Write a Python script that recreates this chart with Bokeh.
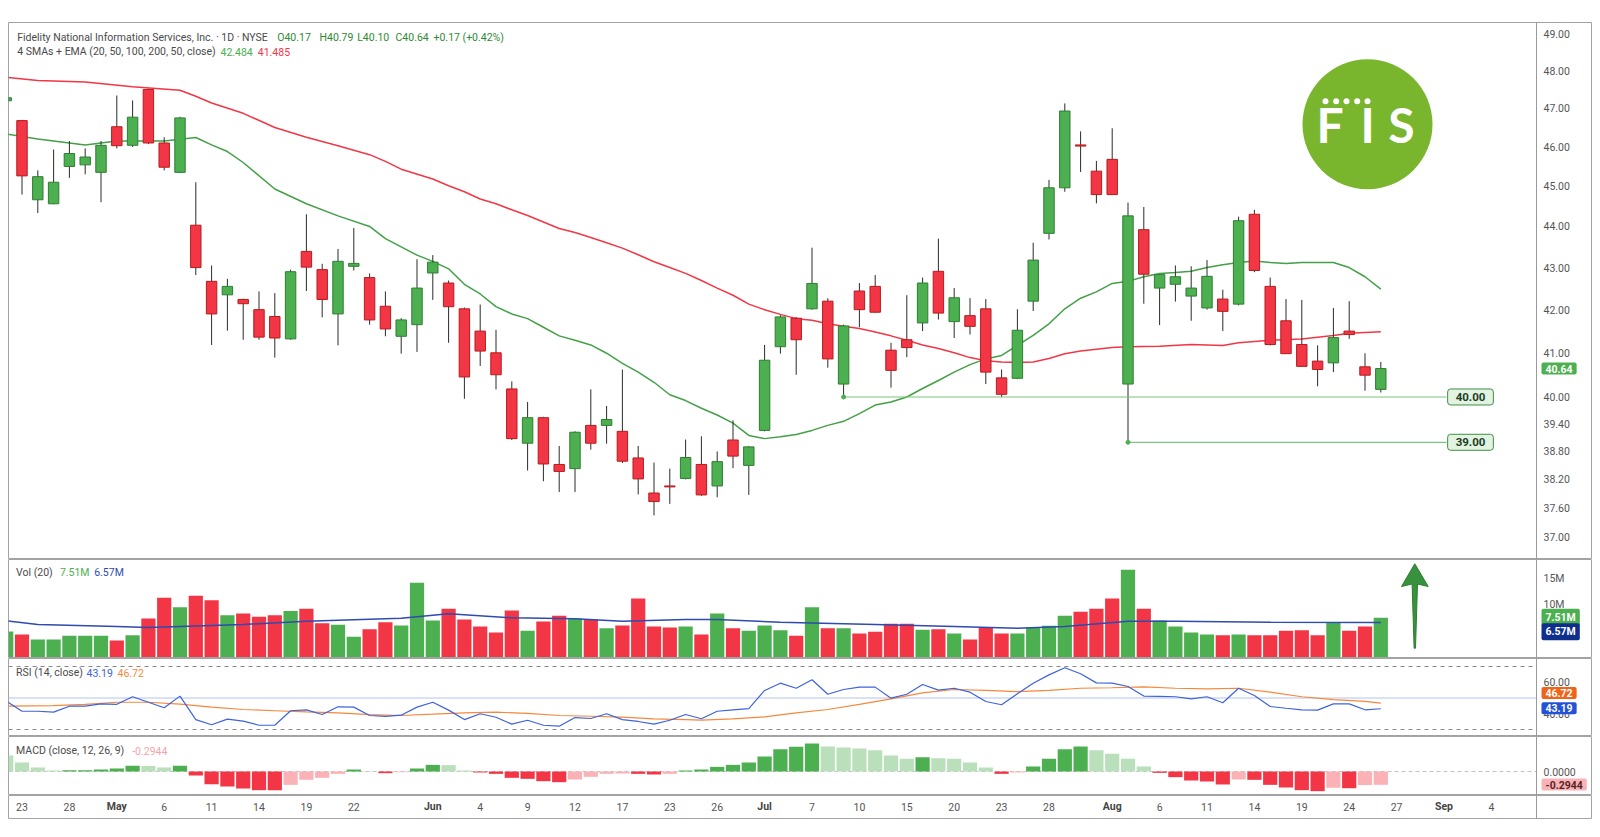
import math
from bokeh.plotting import figure
from bokeh.layouts import column
from bokeh.models import Range1d, Label, ColumnDataSource, Span
from bokeh.embed import file_html
from bokeh.resources import INLINE
from bokeh.core.properties import value

FONT = "Roboto"
UP, DOWN = "#4caf50", "#f23645"
UP_EDGE, DOWN_EDGE = "#2e7d32", "#b71c1c"
TXT = "#555555"

# ---------------- data (bar index, daily OHLC) ----------------
bars = list(range(-1, 87))
opens = [47.20,
         46.68, 44.66, 44.56, 45.50, 45.54, 45.35, 46.52, 46.04, 47.50, 46.10,
         45.35, 44.03, 42.67, 42.35, 42.24, 42.00, 41.84, 41.32, 43.39, 42.95,
         41.90, 43.03, 42.76, 42.08, 41.38, 41.65, 42.87, 42.63, 42.02, 41.50,
         41.00, 40.18, 38.98, 39.54, 38.52, 38.43, 39.37, 39.37, 39.24, 38.66,
         37.91, 38.06, 38.22, 38.52, 38.06, 39.05, 38.50, 39.26, 41.14, 41.80,
         42.02, 42.20, 40.29, 42.44, 42.55, 41.06, 41.30, 41.69, 42.91, 41.72,
         41.86, 42.02, 40.43, 40.42, 42.20, 43.83, 44.96, 46.05, 45.38, 45.68,
         40.29, 43.92, 42.51, 42.60, 42.32, 42.04, 42.25, 42.13, 44.30, 42.55,
         41.74, 41.19, 40.81, 40.77, 41.50, 40.68, 40.17]
highs = [47.40,
         46.70, 45.40, 45.93, 46.15, 45.96, 46.15, 47.34, 47.21, 47.52, 46.25,
         46.78, 45.10, 43.05, 42.73, 42.26, 42.43, 42.39, 42.95, 44.30, 43.09,
         43.45, 43.96, 42.86, 42.43, 41.80, 43.20, 43.30, 42.69, 42.05, 42.12,
         41.53, 40.35, 39.89, 39.56, 38.92, 39.24, 40.17, 39.80, 40.62, 38.92,
         38.56, 38.43, 39.06, 39.13, 38.80, 39.48, 38.92, 41.18, 41.87, 41.83,
         43.48, 42.27, 41.65, 42.63, 42.82, 41.23, 42.34, 42.76, 43.70, 42.51,
         42.27, 42.25, 40.62, 42.01, 43.60, 45.16, 47.13, 46.40, 45.64, 46.48,
         44.59, 44.48, 42.83, 43.05, 43.03, 43.18, 42.47, 44.24, 44.41, 42.76,
         42.25, 42.23, 41.17, 42.04, 42.20, 40.99, 40.79]
lows = [47.00,
        44.79, 44.33, 44.55, 45.21, 45.30, 44.60, 45.96, 46.00, 46.07, 45.40,
        45.33, 42.82, 41.18, 41.51, 41.30, 41.30, 40.89, 41.30, 42.44, 41.82,
        41.17, 42.93, 41.65, 41.38, 40.98, 41.02, 42.23, 41.23, 39.96, 40.70,
        40.17, 39.05, 38.39, 38.16, 37.93, 37.93, 38.84, 38.97, 38.55, 37.88,
        37.44, 37.68, 38.20, 37.85, 37.82, 38.44, 37.87, 39.24, 40.98, 40.50,
        42.00, 40.66, 40.00, 41.59, 41.93, 40.21, 40.90, 41.50, 41.77, 41.34,
        41.42, 40.29, 40.00, 40.40, 41.97, 43.68, 44.86, 45.36, 44.57, 44.79,
        39.00, 42.14, 41.64, 42.19, 41.74, 42.00, 41.50, 42.10, 42.89, 41.17,
        40.98, 40.69, 40.24, 40.56, 41.32, 40.14, 40.10]
closes = [47.28,
          45.26, 45.24, 45.10, 45.83, 45.74, 46.04, 46.03, 46.77, 46.10, 45.48,
          46.75, 43.00, 41.90, 42.55, 42.14, 41.36, 41.34, 42.90, 43.01, 42.24,
          43.15, 43.10, 41.76, 41.55, 41.76, 42.51, 43.13, 42.07, 40.45, 41.04,
          40.50, 39.08, 39.54, 38.53, 38.37, 39.22, 38.98, 39.50, 38.59, 38.21,
          37.73, 38.04, 38.67, 37.87, 38.58, 38.70, 38.90, 40.83, 41.83, 41.30,
          42.62, 40.86, 41.62, 42.00, 41.94, 40.60, 41.12, 42.63, 41.92, 42.28,
          41.61, 40.56, 40.06, 41.52, 43.18, 44.96, 46.93, 46.02, 44.79, 44.79,
          44.26, 42.84, 42.83, 42.78, 42.51, 42.79, 41.96, 44.14, 42.93, 41.19,
          40.98, 40.69, 40.62, 41.35, 41.42, 40.49, 40.64]
volumes_m = [4.87,
             4.30, 3.34, 3.34, 4.04, 4.04, 4.04, 3.15, 4.17, 7.35, 11.30,
             9.50, 11.70, 10.85, 7.98, 8.30, 7.67, 7.98, 8.80, 9.20, 6.45,
             6.14, 3.85, 5.30, 6.64, 6.00, 14.16, 6.97, 9.20, 7.16, 5.82,
             4.68, 8.87, 5.00, 6.77, 7.86, 7.35, 7.16, 5.50, 6.00, 11.16,
             5.82, 5.63, 5.82, 4.30, 8.30, 5.50, 5.00, 6.00, 5.12, 4.04,
             9.50, 5.50, 5.50, 4.48, 4.80, 6.33, 6.33, 5.18, 5.30, 4.48,
             3.34, 5.63, 4.48, 4.48, 5.63, 5.95, 7.86, 8.63, 9.20, 11.16,
             16.64, 9.20, 6.97, 5.82, 4.68, 4.30, 4.17, 4.30, 4.17, 4.17,
             5.00, 5.12, 4.17, 6.64, 5.00, 5.82, 7.51]
rsi = [48.0,
       41.6, 41.6, 41.0, 44.8, 44.8, 46.3, 46.0, 50.8, 47.3, 43.8,
       51.2, 36.3, 33.0, 36.6, 35.3, 32.7, 32.7, 41.9, 42.5, 39.5,
       44.4, 44.2, 38.9, 38.3, 39.1, 44.2, 47.3, 42.3, 36.3, 40.0,
       37.8, 33.4, 35.9, 32.7, 32.1, 37.6, 37.0, 40.0, 36.3, 35.1,
       33.4, 35.9, 39.5, 36.8, 41.6, 42.5, 43.3, 54.8, 59.4, 56.2,
       61.6, 52.4, 55.4, 56.9, 56.9, 49.9, 52.4, 58.6, 55.0, 56.2,
       53.7, 47.8, 45.7, 52.7, 59.4, 64.7, 69.2, 65.4, 59.6, 59.4,
       57.3, 51.2, 51.0, 50.8, 49.5, 50.8, 47.0, 56.2, 51.6, 44.6,
       43.5, 42.5, 42.3, 46.3, 46.3, 42.5, 43.19]
macd_hist = [0.354,
             0.199, 0.088, 0.022, 0.025, 0.030, 0.044, 0.066, 0.125, 0.120, 0.088,
             0.125, -0.088, -0.280, -0.332, -0.376, -0.413, -0.415, -0.295, -0.184, -0.140,
             -0.052, 0.044, 0.007, -0.037, -0.015, 0.066, 0.147, 0.140, 0.022, -0.022,
             -0.052, -0.140, -0.162, -0.214, -0.236, -0.177, -0.118, -0.052, -0.044, -0.052,
             -0.066, -0.052, 0.022, 0.044, 0.103, 0.147, 0.199, 0.332, 0.494, 0.546,
             0.620, 0.553, 0.531, 0.509, 0.472, 0.354, 0.280, 0.317, 0.295, 0.280,
             0.199, 0.088, -0.052, -0.022, 0.111, 0.280, 0.494, 0.553, 0.472, 0.391,
             0.280, 0.111, -0.030, -0.125, -0.199, -0.221, -0.287, -0.177, -0.184, -0.295,
             -0.354, -0.413, -0.435, -0.360, -0.370, -0.300, -0.2944]

# moving averages (bar index, value)
sma20_x = [-1, 1, 4, 6, 9, 11, 12, 13, 14, 16, 18, 20, 22, 23, 24, 25, 26, 27, 28, 29,
           30, 31, 32, 33, 34, 35, 36, 37, 38, 39, 40, 41, 42, 43, 44, 45, 46, 47, 48, 49,
           50, 51, 52, 53, 54, 55, 56, 57, 58, 59, 60, 61, 62, 63, 64, 65, 66, 67, 68, 69,
           70, 71, 72, 73, 74, 75, 76, 77, 78, 79, 80, 81, 82, 83, 84, 85, 86]
sma20_y = [46.33, 46.20, 46.05, 46.15, 46.15, 46.24, 46.05, 45.88, 45.60, 44.93, 44.56, 44.26,
           44.00, 43.70, 43.50, 43.30, 43.15, 42.97, 42.60, 42.37, 42.07, 41.90, 41.79, 41.59,
           41.39, 41.29, 41.18, 40.99, 40.76, 40.56, 40.33, 40.05, 39.92, 39.75, 39.60, 39.42,
           39.15, 39.08, 39.12, 39.17, 39.26, 39.37, 39.46, 39.63, 39.82, 39.89, 40.00, 40.19,
           40.37, 40.56, 40.73, 40.86, 40.94, 41.17, 41.40, 41.67, 42.02, 42.27, 42.42, 42.62,
           42.67, 42.78, 42.86, 42.88, 42.91, 43.00, 43.07, 43.12, 43.16, 43.12, 43.10, 43.12,
           43.12, 43.12, 43.00, 42.78, 42.484]
ema50_x = [-1, 1, 4, 7, 10, 11, 12, 14, 16, 18, 20, 22, 23, 24, 26, 27, 28, 29, 30, 31,
           32, 33, 34, 35, 36, 37, 38, 39, 40, 41, 42, 43, 44, 45, 46, 47, 48, 49, 50, 51,
           52, 53, 54, 55, 56, 57, 58, 59, 60, 61, 62, 63, 64, 65, 66, 67, 68, 69, 70, 72,
           74, 76, 77, 79, 81, 83, 84, 86]
ema50_y = [47.82, 47.74, 47.70, 47.57, 47.48, 47.32, 47.14, 46.87, 46.50, 46.25, 46.03, 45.80,
           45.63, 45.43, 45.18, 45.01, 44.86, 44.68, 44.56, 44.41, 44.27, 44.11, 43.95, 43.85,
           43.73, 43.60, 43.47, 43.31, 43.14, 43.00, 42.86, 42.69, 42.51, 42.34, 42.13, 42.00,
           41.89, 41.79, 41.75, 41.67, 41.61, 41.56, 41.48, 41.39, 41.29, 41.18, 41.10, 41.00,
           40.89, 40.82, 40.79, 40.78, 40.79, 40.87, 40.98, 41.04, 41.08, 41.12, 41.14, 41.15,
           41.19, 41.17, 41.23, 41.29, 41.32, 41.40, 41.45, 41.485]
vol_ma_x = [-1, 1, 6, 8, 10, 14, 18, 24, 27, 31, 35, 38, 42, 44, 48, 54, 59, 63, 66, 70, 73, 79, 86]
vol_ma_y = [6.90, 6.20, 5.82, 5.63, 5.82, 6.20, 6.84, 7.40, 8.24, 7.48, 7.29, 6.84, 7.16, 7.16,
            6.64, 6.20, 5.82, 5.50, 5.82, 6.84, 6.84, 6.64, 6.57]
rsi_ma_x = [-1, 2, 4, 6, 8, 10, 12, 14, 16, 18, 20, 22, 24, 26, 28, 30, 32, 34, 36, 38, 40, 42,
            43, 45, 47, 49, 51, 53, 55, 57, 59, 61, 63, 65, 67, 69, 71, 73, 75, 77, 79, 81, 83, 85, 86]
rsi_ma_y = [44.8, 45.2, 45.9, 47.3, 47.3, 46.1, 44.2, 42.7, 41.9, 41.2, 40.6, 39.5, 38.9, 39.7,
            40.6, 41.0, 40.2, 38.9, 38.4, 37.8, 36.8, 36.3, 35.9, 36.8, 38.0, 40.6, 42.7, 45.9,
            49.5, 53.3, 55.4, 54.8, 54.1, 54.8, 56.2, 56.5, 57.1, 56.2, 55.8, 56.2, 53.7, 50.8,
            49.0, 47.8, 46.72]

# key levels
level_values = [40.00, 39.00]
level_starts = [52, 70]

# axis ticks
price_ticks = [37, 37.6, 38.2, 38.8, 39.4, 40, 41, 42, 43, 44, 45, 46, 47, 48, 49]
vol_ticks, vol_tick_text = [10, 15], ["10M", "15M"]
rsi_ticks = [40, 60]
macd_ticks = [0]
tick_pos = [0, 3, 6, 9, 12, 15, 18, 21, 26, 29, 32, 35, 38, 41, 44, 47, 50, 53, 56, 59, 62,
            65, 69, 72, 75, 78, 81, 84, 87, 90, 93]
tick_text = ["23", "28", "May", "6", "11", "14", "19", "22", "Jun", "4", "9", "12", "17", "23",
             "26", "Jul", "7", "10", "15", "20", "23", "28", "Aug", "6", "11", "14", "19", "24",
             "27", "Sep", "4"]
months = {"May", "Jun", "Jul", "Aug", "Sep"}

# ---------------- layout geometry (screen pixels of the reference) ----------------
X0_PX, BAR_PX = 21.5, 15.8
LEFT, RIGHT, AXIS_X = 8, 1592, 1536
FRAME_W = RIGHT - LEFT


def bx(px):
    return (px - X0_PX) / BAR_PX


def price_at(ypx):
    return 49.0 * math.exp(-(ypx - 33.3) / 1789.6)


def vol_at(ypx):
    return (656.5 - ypx) / 5.24


def rsi_at(ypx):
    return 50.0 - (ypx - 697.5) / 1.575


def macd_at(ypx):
    return (771.0 - ypx) / 45.2


x_rng = Range1d(bx(LEFT), bx(RIGHT))


def make_fig(h, yr, top=0, log=False):
    kw = dict(frame_width=FRAME_W, frame_height=h, x_range=x_rng, y_range=yr,
              x_axis_location=None, y_axis_location=None,
              output_backend="svg", toolbar_location=None, tools="",
              min_border_left=LEFT, min_border_right=0, min_border_top=top, min_border_bottom=0,
              background_fill_color="white", border_fill_color="white",
              outline_line_color="#a3a3a3", outline_line_width=1)
    if log:
        kw["y_axis_type"] = "log"
    f = figure(**kw)
    f.grid.visible = False
    f.add_layout(Span(location=bx(AXIS_X), dimension="height", line_color="#9a9a9a", line_width=1))
    return f


def axis_labels(fig, vals, texts):
    fig.text(x=[bx(AXIS_X + 7)] * len(vals), y=vals, text=texts, text_align="left",
             text_baseline="middle", text_font=value(FONT), text_font_size="10.5px",
             text_color=TXT)


def hline(fig, y, color, dash="solid", width=1.0):
    fig.segment(x0=[bx(LEFT)], y0=[y], x1=[bx(AXIS_X)], y1=[y], line_color=color,
                line_dash=dash, line_width=width)


def label(fig, xpx, y, s, color, size="10.5px"):
    fig.add_layout(Label(x=bx(xpx), y=y, text=s, text_color=color, text_font=FONT,
                         text_font_size=size, text_align="left", text_baseline="middle"))


def badge(fig, y, s, bg, fg="white"):
    fig.add_layout(Label(x=bx(AXIS_X + 5), y=y, text=s, text_color=fg, text_font=FONT,
                         text_font_size="10.5px", text_font_style="bold",
                         text_align="left", text_baseline="middle",
                         background_fill_color=bg, padding=(4, 2), border_radius=2))


up = [c >= o for o, c in zip(opens, closes)]

# ---------------- price pane ----------------
p = make_fig(537, Range1d(price_at(559), price_at(22)), top=22, log=True)
axis_labels(p, price_ticks, [f"{v:.2f}" for v in price_ticks])

p.line(sma20_x, sma20_y, line_color="#43a047", line_width=1.5)
p.line(ema50_x, ema50_y, line_color="#f23645", line_width=1.5)

src = ColumnDataSource(dict(
    x=bars, high=highs, low=lows,
    top=[max(o, c) for o, c in zip(opens, closes)],
    bot=[min(o, c) for o, c in zip(opens, closes)],
    fill=[UP if u else DOWN for u in up],
    edge=[UP_EDGE if u else DOWN_EDGE for u in up],
))
p.segment(x0="x", y0="low", x1="x", y1="high", line_color="#2b2b2b", line_width=1, source=src)
p.vbar(x="x", width=0.66, top="top", bottom="bot", fill_color="fill", line_color="edge",
       line_width=1, source=src)

for lv, st in zip(level_values, level_starts):
    p.segment(x0=[st], y0=[lv], x1=[bx(1446)], y1=[lv], line_color="#7cc47f", line_width=1.2)
    p.scatter([st], [lv], size=4, color="#4caf50")
    p.add_layout(Label(x=bx(1470), y=lv, text=f"{lv:.2f}", text_align="center",
                       text_baseline="middle", text_font=FONT, text_font_size="11.5px",
                       text_font_style="bold", text_color="#1d3d1f",
                       background_fill_color="#e2f3e2", border_line_color="#3f8f43",
                       border_radius=3, padding=(8, 4)))

# FIS logo
p.scatter([bx(1367)], [price_at(123.7)], size=130, color="#7ab52e", line_color=None)
p.scatter([bx(v) for v in (1325, 1335.7, 1346, 1356.7, 1367)], [price_at(100.7)] * 5,
          size=6, color="white", line_color=None)
p.text(x=[bx(1316), bx(1367), bx(1401)], y=[price_at(124)] * 3, text=["F", "I", "S"],
       text_align=["left", "center", "center"], text_baseline="middle",
       text_font=value("Lato"), text_font_size="48px", text_font_style="bold",
       text_color="white")

# header
HY1, HY2 = price_at(37), price_at(51)
label(p, 16.7, HY1, "Fidelity National Information Services, Inc. \u00b7 1D \u00b7 NYSE", "#4a4a4a")
for xp, s in [(276.7, "O40.17"), (319, "H40.79"), (356.7, "L40.10"), (395, "C40.64"),
              (433, "+0.17 (+0.42%)")]:
    label(p, xp, HY1, s, "#2f8a35")
label(p, 16.7, HY2, "4 SMAs + EMA (20, 50, 100, 200, 50, close)", "#4a4a4a")
label(p, 220, HY2, "42.484", "#4caf50")
label(p, 257.3, HY2, "41.485", "#f23645")
badge(p, closes[-1], f"{closes[-1]:.2f}", UP)

# ---------------- volume pane ----------------
pv = make_fig(99, Range1d(vol_at(658), vol_at(559)))
axis_labels(pv, vol_ticks, vol_tick_text)
pv.vbar(x=bars, top=volumes_m, bottom=0, width=0.9,
        fill_color=[UP if u else DOWN for u in up], line_color=None)
pv.line(vol_ma_x, vol_ma_y, line_color="#2f4ab0", line_width=1.5)
label(pv, 15.6, vol_at(572.3), "Vol (20)", "#4a4a4a")
label(pv, 59.4, vol_at(572.3), "7.51M", "#4caf50")
label(pv, 93.7, vol_at(572.3), "6.57M", "#2f4ab0")
badge(pv, vol_at(616.7), "7.51M", UP)
badge(pv, vol_at(631.3), "6.57M", "#0f2f8f")
# up arrow annotation (tip, head, tapering shaft)
arrow_px = [(1414.3, 563.3), (1427.7, 586.0), (1417.0, 583.5), (1415.0, 647.7),
            (1413.6, 647.7), (1411.6, 583.5), (1401.0, 586.0)]
pv.patch([bx(a) for a, _ in arrow_px], [vol_at(b) for _, b in arrow_px],
         fill_color="#38913d", line_color="#2e7d32", line_width=1)

# ---------------- RSI pane ----------------
pr = make_fig(78, Range1d(rsi_at(736), rsi_at(658)))
axis_labels(pr, rsi_ticks, [f"{v:.2f}" for v in rsi_ticks])
hline(pr, 70, "#8a8a8a", "4 4")
hline(pr, 30, "#8a8a8a", "4 4")
hline(pr, 50, "#b3c3ee", width=1.2)
pr.line(rsi_ma_x, rsi_ma_y, line_color="#f5883c", line_width=1.2)
pr.line(bars, rsi, line_color="#3d63dd", line_width=1.2)
label(pr, 15.6, rsi_at(672.3), "RSI (14, close)", "#4a4a4a")
label(pr, 86, rsi_at(672.3), "43.19", "#3d63dd")
label(pr, 117, rsi_at(672.3), "46.72", "#f5883c")
badge(pr, rsi_at(692.5), "46.72", "#f0641a")
badge(pr, rsi_at(707.8), "43.19", "#2352d8")

# ---------------- MACD pane ----------------
pm = make_fig(59, Range1d(macd_at(795), macd_at(736)))
axis_labels(pm, macd_ticks, [f"{v:.4f}" for v in macd_ticks])
hline(pm, 0, "#c4c4c4", "4 3")
hist_cols = []
for i, h in enumerate(macd_hist):
    prev = macd_hist[i - 1] if i > 0 else float("inf")
    if h >= 0:
        hist_cols.append("#4caf50" if h > prev else "#b9e0ba")
    else:
        hist_cols.append("#f23645" if h < prev else "#fbb2b7")
pm.vbar(x=bars, top=macd_hist, bottom=0, width=0.9, fill_color=hist_cols, line_color=None)
label(pm, 15.6, macd_at(750), "MACD (close, 12, 26, 9)", "#4a4a4a")
label(pm, 131.7, macd_at(750), "-0.2944", "#f5a3a9")
badge(pm, macd_at(784), "-0.2944", "#f7b3b8", fg="#5c1f24")

# ---------------- time axis ----------------
pt = make_fig(24, Range1d(0, 1))
day_x = [x for x, t in zip(tick_pos, tick_text) if t not in months]
day_t = [t for t in tick_text if t not in months]
mon_x = [x for x, t in zip(tick_pos, tick_text) if t in months]
mon_t = [t for t in tick_text if t in months]
pt.text(x=day_x, y=[0.54] * len(day_x), text=day_t, text_align="center", text_baseline="middle",
        text_font=value(FONT), text_font_size="10.5px", text_color=TXT)
pt.text(x=mon_x, y=[0.54] * len(mon_x), text=mon_t, text_align="center", text_baseline="middle",
        text_font=value(FONT), text_font_size="10.5px", text_font_style="bold", text_color="#444444")

layout = column(p, pv, pr, pm, pt, spacing=0)
with open("out.html", "w") as fh:
    fh.write(file_html(layout, INLINE, title="FIS"))
